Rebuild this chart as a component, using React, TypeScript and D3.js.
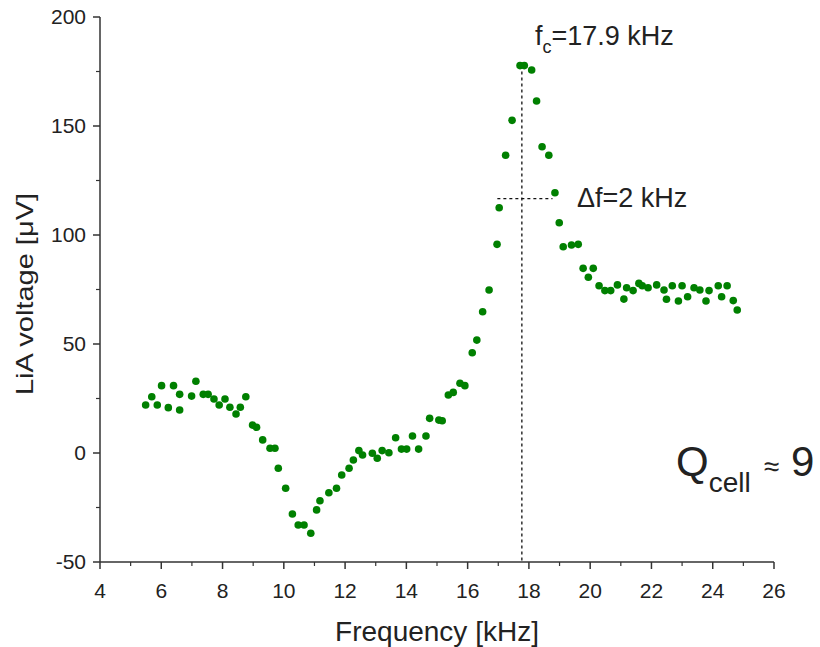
import React from "react";
import * as d3 from "d3";

const freq = [
  5.49, 5.69, 5.87, 6.01, 6.23, 6.4, 6.6, 6.6, 6.99, 7.13, 7.37, 7.53, 7.72, 7.89, 8.08, 8.24, 8.44, 8.58, 8.76,
  8.98, 9.11, 9.31, 9.55, 9.71, 9.82, 10.06, 10.28, 10.47, 10.66, 10.88, 11.07, 11.18, 11.47, 11.72, 11.89,
  12.13, 12.27, 12.45, 12.57, 12.89, 13.05, 13.21, 13.43, 13.65, 13.84, 14.01, 14.2, 14.4, 14.64, 14.76,
  15.06, 15.17, 15.37, 15.53, 15.75, 15.91, 16.15, 16.3, 16.49, 16.7, 16.96, 17.03, 17.24, 17.45, 17.71,
  17.85, 18.09, 18.25, 18.43, 18.65, 18.85, 18.99, 19.12, 19.39, 19.61, 19.77, 19.94, 20.1, 20.29, 20.48,
  20.67, 20.89, 21.1, 21.19, 21.4, 21.59, 21.7, 21.89, 22.17, 22.41, 22.49, 22.68, 22.88, 23.0, 23.18,
  23.39, 23.58, 23.78, 23.88, 24.18, 24.29, 24.47, 24.67, 24.8,
];
const voltage = [
  22.0, 25.8, 22.0, 30.9, 20.8, 30.9, 26.9, 19.7, 26.1, 32.9, 26.9, 26.9, 24.8, 22.0, 24.8, 21.0, 17.9, 21.0, 25.8,
  12.8, 11.8, 6.0, 2.2, 2.2, -7.0, -16.2, -28.0, -33.0, -33.0, -36.8, -26.1, -21.9, -18.2, -16.2, -10.1,
  -7.0, -3.2, 1.1, -0.9, -0.1, -2.4, 1.1, 0.1, 7.0, 1.8, 1.8, 7.8, 1.8, 7.8, 15.9,
  15.1, 14.8, 26.6, 27.8, 32.0, 30.9, 46.0, 51.8, 64.8, 74.8, 95.7, 112.5, 136.6, 152.6, 177.7,
  177.7, 175.7, 161.5, 140.5, 136.6, 119.4, 105.6, 94.6, 95.4, 95.7, 84.7, 80.6, 84.7, 76.7, 74.5,
  74.5, 77.1, 70.6, 75.8, 74.5, 77.8, 76.7, 75.8, 77.1, 74.8, 70.5, 76.7, 69.7, 76.7, 71.7,
  75.8, 74.8, 69.7, 74.5, 76.7, 71.7, 76.7, 69.9, 65.6,
];

const xTicks = [4, 6, 8, 10, 12, 14, 16, 18, 20, 22, 24, 26];
const xMinor = [5, 7, 9, 11, 13, 15, 17, 19, 21, 23, 25];
const yTicks = [-50, 0, 50, 100, 150, 200];
const yMinor = [-25, 25, 75, 125, 175];

const fc = 17.77;
const fcTop = 177.7;
const halfLevel = 116.7;
const halfLeft = 16.97;
const halfRight = 18.77;

export default function App() {
  const W = 820, H = 647;
  const x = d3.scaleLinear().domain([4, 26]).range([100, 774]);
  const y = d3.scaleLinear().domain([-50, 200]).range([562, 17]);
  const font = "'Liberation Sans', Arial, sans-serif";
  const axisColor = "#333";
  const textColor = "#222";
  const pts = freq.map((f, i) => [f, voltage[i]] as [number, number]);
  return (
    <svg width={W} height={H} style={{ position: "absolute", left: 0, top: 0, background: "#fff" }}
      fontFamily={font}>
      {/* axes */}
      <line x1={x(4)} x2={x(4)} y1={y(200)} y2={y(-50)} stroke={axisColor} strokeWidth={1.5} />
      <line x1={x(4)} x2={x(26)} y1={y(-50)} y2={y(-50)} stroke={axisColor} strokeWidth={1.5} />
      {yTicks.map((t) => (
        <g key={"yt" + t}>
          <line x1={x(4) - 7} x2={x(4)} y1={y(t)} y2={y(t)} stroke={axisColor} strokeWidth={1.5} />
          <text x={x(4) - 14} y={y(t)} dy="0.35em" textAnchor="end" fontSize={21} fill={textColor}>{t}</text>
        </g>
      ))}
      {yMinor.map((t) => (
        <line key={"ym" + t} x1={x(4) - 4} x2={x(4)} y1={y(t)} y2={y(t)} stroke={axisColor} strokeWidth={1.2} />
      ))}
      {xTicks.map((t) => (
        <g key={"xt" + t}>
          <line x1={x(t)} x2={x(t)} y1={y(-50)} y2={y(-50) + 7} stroke={axisColor} strokeWidth={1.5} />
          <text x={x(t)} y={y(-50) + 36} textAnchor="middle" fontSize={21} fill={textColor}>{t}</text>
        </g>
      ))}
      {xMinor.map((t) => (
        <line key={"xm" + t} x1={x(t)} x2={x(t)} y1={y(-50)} y2={y(-50) + 4} stroke={axisColor} strokeWidth={1.2} />
      ))}
      <text x={(x(4) + x(26)) / 2} y={641} textAnchor="middle" fontSize={28} fill={textColor}>Frequency [kHz]</text>
      <text transform={`translate(33, 294) rotate(-90) scale(1, 0.85)`} textAnchor="middle" fontSize={29} fill={textColor}>LiA voltage [μV]</text>

      {/* dashed annotation lines */}
      <line x1={x(fc)} x2={x(fc)} y1={y(fcTop)} y2={y(-50)} stroke="#111" strokeWidth={1.3} strokeDasharray="3,3" />
      <line x1={x(halfLeft)} x2={x(halfRight)} y1={y(halfLevel)} y2={y(halfLevel)} stroke="#111" strokeWidth={1.3} strokeDasharray="3,3" />

      {/* data */}
      {pts.map(([f, v], i) => (
        <circle key={i} cx={x(f)} cy={y(v)} r={3.8} fill="#008000" />
      ))}

      {/* labels */}
      <text x={535} y={45} fontSize={27} fill={textColor}>
        f<tspan dy={8} fontSize={18}>c</tspan><tspan dy={-8}>=17.9 kHz</tspan>
      </text>
      <text x={577} y={207} fontSize={27} fill={textColor}>Δf=2 kHz</text>
      <text x={676} y={476} fontSize={42} fill={textColor}>
        Q<tspan dy={16} fontSize={28}>cell</tspan><tspan dy={-16} fontSize={28} dx={13}>≈</tspan><tspan fontSize={42} dx={12}>9</tspan>
      </text>
    </svg>
  );
}
